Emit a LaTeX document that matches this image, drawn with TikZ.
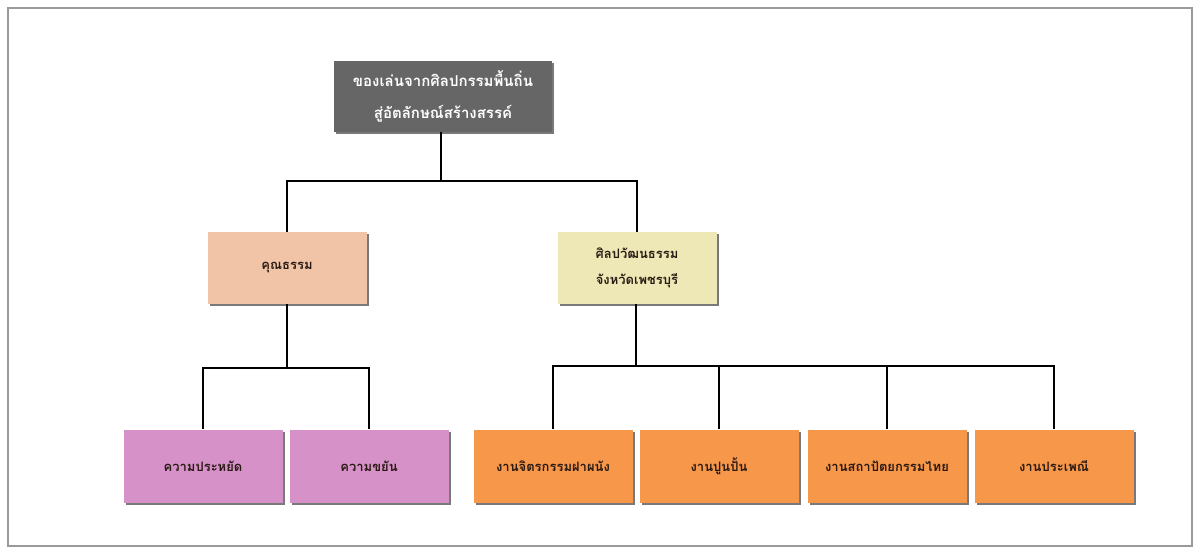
\documentclass[tikz,border=0pt]{standalone}
\usepackage{fontspec}
\newfontfamily\thaifont[Script=Thai]{Loma}
\usetikzlibrary{shadows}
\definecolor{topgray}{HTML}{666666}
\definecolor{peach}{HTML}{F1C4A8}
\definecolor{cream}{HTML}{EEE8B6}
\definecolor{orchid}{HTML}{D591C8}
\definecolor{amber}{HTML}{F7974A}
\definecolor{framegray}{HTML}{9A9A9A}
\definecolor{inktext}{HTML}{2A1A14}
\tikzset{
  box/.style={draw=none, rectangle, align=center, inner sep=2pt,
    font=\thaifont\bfseries\fontsize{13}{26}\selectfont, text=inktext,
    drop shadow={shadow xshift=2pt, shadow yshift=-2pt, fill=black!70, opacity=0.75}},
  headbox/.style={box, fill=topgray, text=white, minimum width=218pt, minimum height=71pt,
    font=\thaifont\bfseries\fontsize{15}{32}\selectfont},
  midbox/.style={box, minimum width=159pt, minimum height=72pt},
  leafbox/.style={box, minimum width=159pt, minimum height=73pt},
  wire/.style={draw=black, line width=1.3pt}
}
\begin{document}
\begin{tikzpicture}[x=1pt,y=-1pt]
  \useasboundingbox (0,0) rectangle (1195,549);
  % outer frame
  \draw[framegray, line width=2pt] (7.5,8) rectangle (1192,546);

  % boxes
  \node[headbox] (root) at (443,96) {ของเล่นจากศิลปกรรมพื้นถิ่น\\สู่อัตลักษณ์สร้างสรรค์};
  \node[midbox, fill=peach] (virtue) at (287,268) {คุณธรรม};
  \node[midbox, fill=cream] (culture) at (637,268) {ศิลปวัฒนธรรม\\จังหวัดเพชรบุรี};

  \node[leafbox, fill=orchid] (thrift) at (203,466) {ความประหยัด};
  \node[leafbox, fill=orchid] (diligence) at (369,466) {ความขยัน};

  \node[leafbox, fill=amber] (mural) at (553,466) {งานจิตรกรรมฝาผนัง};
  \node[leafbox, fill=amber] (stucco) at (719,466) {งานปูนปั้น};
  \node[leafbox, fill=amber] (archi) at (887,466) {งานสถาปัตยกรรมไทย};
  \node[leafbox, fill=amber] (custom) at (1054,466) {งานประเพณี};

  % junction points of the tree
  \coordinate (j0) at (441,181);
  \coordinate (j1) at (287,368);
  \coordinate (j2) at (636,366);

  % connectors
  \draw[wire] (root.south -| j0) -- (j0);
  \draw[wire] (j0) -| (virtue.north);
  \draw[wire] (j0) -| (culture.north);

  \draw[wire] (virtue.south) -- (j1);
  \draw[wire] (j1) -| (thrift.north);
  \draw[wire] (j1) -| (diligence.north);

  \draw[wire] (culture.south -| j2) -- (j2);
  \draw[wire] (j2) -| (mural.north);
  \draw[wire] (j2) -| (stucco.north);
  \draw[wire] (j2) -| (archi.north);
  \draw[wire] (j2) -| (custom.north);
\end{tikzpicture}
\end{document}
